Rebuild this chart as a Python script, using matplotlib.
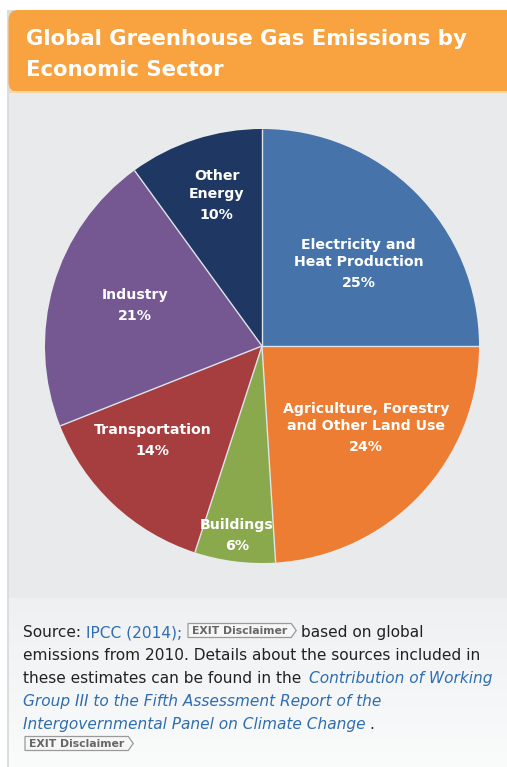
import matplotlib
matplotlib.use("Agg")
import matplotlib.pyplot as plt
import numpy as np
from matplotlib.patches import Rectangle, Polygon, FancyBboxPatch
from matplotlib.colors import LinearSegmentedColormap

# ---- data ----
sectors = ["Electricity and\nHeat Production",
           "Agriculture, Forestry\nand Other Land Use",
           "Buildings",
           "Transportation",
           "Industry",
           "Other\nEnergy"]
shares = [25, 24, 6, 14, 21, 10]
colors = ["#4573aa", "#ed7d32", "#8aa94d", "#a63e40", "#755792", "#1f3763"]

title_lines = ["Global Greenhouse Gas Emissions by", "Economic Sector"]

# label placement (angle offset in degrees, distance as fraction of radius)
label_angle_offset = [-12, -1, 0, -3, 3, 1]
label_radius = [0.53, 0.67, 0.93, 0.70, 0.60, 0.64]

W, H = 507, 767
fig = plt.figure(figsize=(W / 100, H / 100), dpi=100)
fig.patch.set_facecolor("white")

# background axes in pixel coordinates (y downward)
bg = fig.add_axes([0, 0, 1, 1])
bg.set_xlim(0, W)
bg.set_ylim(H, 0)
bg.axis("off")

# card border
bg.add_patch(Rectangle((7, 10), W, H, facecolor="#dcdcdc", edgecolor="none", zorder=0))
# lower light panel with soft gradient
grad = np.linspace(0, 1, 200).reshape(-1, 1)
cm = LinearSegmentedColormap.from_list("g", ["#eef0f2", "#fafbfb"])
bg.imshow(grad, cmap=cm, extent=(8.5, W, H, 598), aspect="auto", zorder=1)
# gray chart panel
bg.add_patch(Rectangle((8.5, 93), W, 505, facecolor="#e9eaec", edgecolor="none", zorder=1))
# orange header with rounded corner
bg.add_patch(FancyBboxPatch((8.5, 10), W + 60, 82, boxstyle="round,pad=0,rounding_size=10",
                            facecolor="#f8a33f", edgecolor="none", zorder=2))
bg.add_patch(Rectangle((8.5, 91), W, 2, facecolor="#fbd4a0", edgecolor="none", zorder=2))

for i, line in enumerate(title_lines):
    bg.text(26, 45 + 31 * i, line, color="white", fontsize=15.3, fontweight="bold",
            ha="left", va="baseline", zorder=3, family="DejaVu Sans")

# ---- pie ----
cx, cy, R = 262, 346, 217
pad = 1.05
pax = fig.add_axes([(cx - R * pad) / W, (H - cy - R * pad) / H, 2 * R * pad / W, 2 * R * pad / H])
pax.patch.set_alpha(0)
wedges, _ = pax.pie(shares, colors=colors, startangle=90, counterclock=False, radius=1,
                    wedgeprops=dict(edgecolor="none", linewidth=0))
pax.set_xlim(-pad, pad)
pax.set_ylim(-pad, pad)
pax.axis("off")

# thin light separators between slices
for w in wedges:
    a = np.deg2rad(w.theta1)
    pax.plot([0, np.cos(a)], [0, np.sin(a)], color="#dfe3ea", lw=1.0, zorder=3,
             solid_capstyle="butt")

for w, name, val, dang, rf in zip(wedges, sectors, shares, label_angle_offset, label_radius):
    ang = np.deg2rad((w.theta1 + w.theta2) / 2 + dang)
    x, y = rf * np.cos(ang), rf * np.sin(ang)
    pax.text(x, y, f"{val}%", color="white", fontsize=10.2, fontweight="bold",
             ha="center", va="center", zorder=4)
    pax.text(x, y + 14 / R, name, color="white", fontsize=10.2, fontweight="bold",
             ha="center", va="bottom", linespacing=1.3, zorder=4)

# ---- source note ----
fig.canvas.draw()
renderer = fig.canvas.get_renderer()
dark = "#222222"
blue = "#2f6db0"
fs = 11.1


def run(x, y, s, **kw):
    t = bg.text(x, y, s, ha="left", va="baseline", fontsize=fs, zorder=4, **kw)
    bb = t.get_window_extent(renderer)
    return x + bb.width


def badge(x, y):
    h = 14
    t = bg.text(x + 4, y - 3, "EXIT Disclaimer", ha="left", va="baseline", fontsize=7.8,
                fontweight="bold", color="#666666", zorder=5)
    bw = t.get_window_extent(renderer).width + 8
    top = y - h + 0.5
    pts = [(x, top), (x + bw, top), (x + bw + 5, top + h / 2), (x + bw, top + h), (x, top + h)]
    bg.add_patch(Polygon(pts, closed=True, facecolor="#f6f6f6", edgecolor="#9a9a9a",
                         linewidth=0.9, zorder=4))
    return x + bw + 5


x0 = 23
lh = 23
y = 637
x = run(x0, y, "Source: ", color=dark)
x = run(x, y, "IPCC (2014);", color=blue)
x = badge(x + 6, y)
run(x + 5, y, "based on global", color=dark)
y += lh
run(x0, y, "emissions from 2010. Details about the sources included in", color=dark)
y += lh
x = run(x0, y, "these estimates can be found in the ", color=dark)
run(x + 3, y, "Contribution of Working", color=blue, style="italic")
y += lh
run(x0, y, "Group III to the Fifth Assessment Report of the", color=blue, style="italic")
y += lh
x = run(x0, y, "Intergovernmental Panel on Climate Change", color=blue, style="italic")
run(x + 4, y, ".", color=dark)
y += 21
badge(x0 + 2, y)

fig.savefig("out.png", dpi=100, facecolor=fig.get_facecolor())
